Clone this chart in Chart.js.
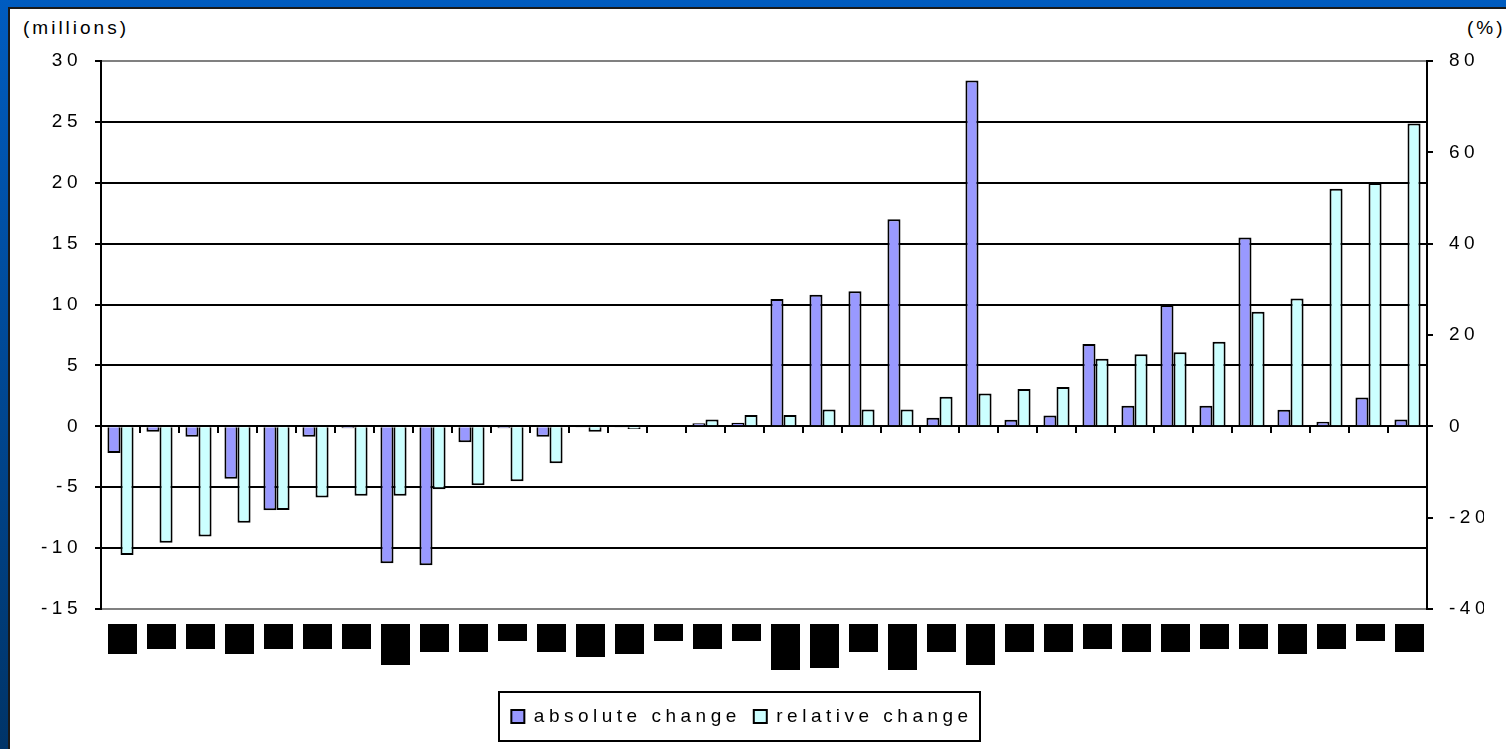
<!DOCTYPE html>
<html lang="en">
<head>
  <meta charset="UTF-8" />
  <title>Absolute and relative change</title>
  <script src="https://cdn.jsdelivr.net/npm/chart.js"></script>
  <style>
    body {
      margin: 0;
      width: 1506px;
      height: 749px;
      overflow: hidden;
      background: linear-gradient(to bottom, #005cc0, #003468);
      font-family: "Liberation Sans", Arial, sans-serif;
    }
    .panel {
      position: absolute;
      left: 8px;
      top: 7px;
      right: 0;
      bottom: 0;
      background: #fff;
      border-left: 2px solid #1a1a1a;
      border-top: 2px solid #1a1a1a;
    }
    .unit {
      position: absolute;
      top: 17px;
      font-size: 19px;
      line-height: 22px;
      letter-spacing: 3px;
      color: #000;
    }
    canvas {
      position: absolute;
      left: 0;
      top: 0;
    }
  </style>
</head>
<body>

<div class="panel"></div>
<div class="unit" style="left:23px">(millions)</div>
<div class="unit" style="left:1467px">(%)</div>
<canvas id="chart" width="1506" height="749" style="width:1506px;height:749px"></canvas>

<script>
// category names are blacked out in the source picture
const categories = Array.from({ length: 34 }, (_, i) => 'Item ' + (i + 1));

// absolute change, millions (left axis)
const absoluteChange = [
  -2.2, -0.45, -0.85, -4.3, -6.9, -0.85, -0.15, -11.25, -11.4, -1.3,
  -0.15, -0.85, -0.05, -0.05, 0, 0.25, 0.3, 10.45, 10.8, 11.1,
  17.0, 0.7, 28.4, 0.55, 0.88, 6.76, 1.7, 9.96, 1.7, 15.5,
  1.37, 0.38, 2.36, 0.57
];

// relative change, % (right axis)
const relativeChange = [
  -28.2, -25.5, -24.1, -21.1, -18.3, -15.6, -15.2, -15.2, -13.8, -12.9,
  -12.0, -8.1, -1.2, -0.6, 0, 1.5, 2.5, 2.5, 3.7, 3.7,
  3.7, 6.5, 7.2, 8.2, 8.6, 14.8, 15.8, 16.2, 18.5, 25.1,
  28.0, 52.0, 53.3, 66.3
];

const leftAxis = { min: -15, max: 30, step: 5 };
const rightAxis = { min: -40, max: 80, step: 20 };

// height of the black blocks that hide each category label
const redactedLabelHeights = [
  30, 25, 25, 30, 25, 25, 25, 41, 28, 28,
  17, 28, 33, 30, 17, 25, 17, 46, 44, 28,
  46, 28, 41, 28, 28, 25, 28, 28, 25, 25,
  30, 25, 17, 28
];

Chart.defaults.font.family = '"Liberation Sans", Arial, sans-serif';
Chart.defaults.color = '#000';

// the original text is drawn widely spaced
const spacing = {
  id: 'spacing',
  beforeUpdate(chart) { chart.ctx.letterSpacing = '4.5px'; },
  beforeDraw(chart) { chart.ctx.letterSpacing = '4.5px'; }
};

const redactions = {
  id: 'redactions',
  afterDraw(chart) {
    const ctx = chart.ctx;
    const x = chart.scales.x;
    const top = chart.chartArea.bottom + 15;
    ctx.save();
    ctx.fillStyle = '#000';
    redactedLabelHeights.forEach((h, i) => {
      const cx = x.getPixelForValue(i) + 2;
      ctx.fillRect(Math.round(cx - 14.5), top, 29, h);
    });
    ctx.restore();
  }
};

const legendFrame = {
  id: 'legendFrame',
  afterDraw(chart) {
    const boxes = chart.legend.legendHitBoxes;
    if (!boxes || !boxes.length) return;
    const first = boxes[0];
    const last = boxes[boxes.length - 1];
    const left = first.left - 12;
    const right = last.left + last.width + 8;
    const cy = first.top + first.height / 2;
    const ctx = chart.ctx;
    ctx.save();
    ctx.strokeStyle = '#000';
    ctx.lineWidth = 2;
    ctx.strokeRect(Math.round(left), Math.round(cy - 24.5), Math.round(right - left), 49);
    ctx.restore();
  }
};

new Chart(document.getElementById('chart'), {
  type: 'bar',
  data: {
    labels: categories,
    datasets: [
      {
        label: 'absolute change',
        data: absoluteChange,
        yAxisID: 'y',
        xAxisID: 'x',
        backgroundColor: '#9999ff',
        borderColor: '#000',
        borderWidth: 2
      },
      {
        label: 'relative change',
        data: relativeChange,
        yAxisID: 'y1',
        xAxisID: 'x',
        backgroundColor: '#ccffff',
        borderColor: '#000',
        borderWidth: 2
      }
    ]
  },
  options: {
    responsive: false,
    devicePixelRatio: 1,
    animation: false,
    categoryPercentage: 0.67,
    barPercentage: 1,
    layout: { padding: { top: 61, left: 0, right: 22, bottom: 13 } },
    plugins: {
      tooltip: { enabled: false },
      legend: {
        position: 'bottom',
        labels: {
          boxWidth: 13,
          boxHeight: 13,
          padding: 13,
          color: '#000',
          font: { size: 19 }
        }
      }
    },
    scales: {
      x: {
        type: 'category',
        position: { y: 0 },
        offset: true,
        grid: { offset: true, drawOnChartArea: false, tickLength: 6, color: '#000', lineWidth: 2 },
        border: { display: true, color: '#000', width: 2 },
        ticks: { display: false }
      },
      x2: {
        type: 'category',
        position: 'bottom',
        offset: true,
        grid: { display: false },
        border: { display: false },
        ticks: { display: false },
        afterFit(s) { s.height = 85; }
      },
      y: {
        position: 'left',
        min: leftAxis.min,
        max: leftAxis.max,
        ticks: { stepSize: leftAxis.step, padding: 13, color: '#000', font: { size: 19 } },
        grid: {
          color: c => (c.tick && (c.tick.value === leftAxis.max || c.tick.value === leftAxis.min)) ? '#808080' : '#000',
          tickColor: '#000',
          lineWidth: 2,
          tickLength: 6
        },
        border: { color: '#000', width: 2 },
        afterFit(s) { s.width = 101; }
      },
      y1: {
        position: 'right',
        min: rightAxis.min,
        max: rightAxis.max,
        ticks: { stepSize: rightAxis.step, padding: 16, color: '#000', font: { size: 19 } },
        grid: { drawOnChartArea: false, tickLength: 6, color: '#000', lineWidth: 2 },
        border: { color: '#000', width: 2 },
        afterFit(s) { s.width = 57; }
      }
    }
  },
  plugins: [spacing, redactions, legendFrame]
});
</script>
</body>
</html>
